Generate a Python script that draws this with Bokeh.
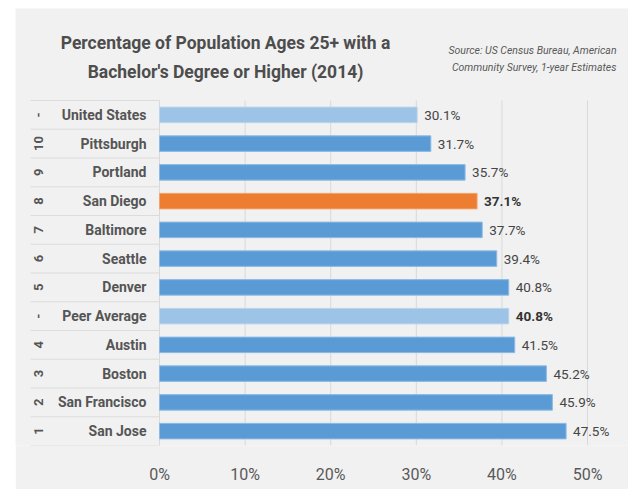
from bokeh.plotting import figure
from bokeh.models import ColumnDataSource, Range1d, FixedTicker, Spacer
from bokeh.layouts import column, row
from bokeh.core.properties import value
from bokeh.embed import file_html
from bokeh.resources import INLINE

# ---- data (top to bottom) ----
names = ["United States", "Pittsburgh", "Portland", "San Diego", "Baltimore", "Seattle",
         "Denver", "Peer Average", "Austin", "Boston", "San Francisco", "San Jose"]
ranks = ["-", "10", "9", "8", "7", "6", "5", "-", "4", "3", "2", "1"]
pct = [30.1, 31.7, 35.7, 37.1, 37.7, 39.4, 40.8, 40.8, 41.5, 45.2, 45.9, 47.5]
kinds = ["ref", "city", "city", "focus", "city", "city", "city", "ref", "city", "city", "city", "city"]
bold_labels = ["San Diego", "Peer Average"]
x_ticks = [0, 10, 20, 30, 40, 50]
x_tick_labels = ["0%", "10%", "20%", "30%", "40%", "50%"]
title_lines = ["Percentage of Population Ages 25+ with a", "Bachelor's Degree or Higher (2014)"]
source_lines = ["Source: US Census Bureau, American", "Community Survey, 1-year Estimates"]

FONT = "Roboto"
BG = "#f1f1f1"
fill_map = {"ref": "#9dc3e6", "city": "#5b9bd5", "focus": "#ed7d31"}
line_map = {"ref": "#b9d5ee", "city": "#8cbbe6", "focus": "#f3a46e"}

# geometry helpers (page pixels -> data)
PX_PER_UNIT_X = 8.56   # px per 1 %
ROW_PX = 28.75
X_ZERO_PAGE = 159
FRAME_BOTTOM_PAGE = 445
def xd(px):
    return (px - X_ZERO_PAGE) / PX_PER_UNIT_X
def yd(py):
    return -0.5 + (FRAME_BOTTOM_PAGE - py) / ROW_PX

n = len(names)
ys = [n - 1 - i for i in range(n)]
labels = [f"{v:.1f}%" for v in pct]
lab_style = ["bold" if nm in bold_labels else "normal" for nm in names]
lab_color = ["#333333" if s == "bold" else "#454545" for s in lab_style]

src = ColumnDataSource(dict(
    y=ys, v=pct, name=names, rank=ranks, lab=labels,
    fill=[fill_map[k] for k in kinds], line=[line_map[k] for k in kinds],
    lstyle=lab_style, lcolor=lab_color,
))

X0, X1 = xd(15), xd(628)
Y0, Y1 = -0.5, yd(8)
p = figure(width=613, height=481, output_backend="svg", toolbar_location=None,
           x_range=Range1d(X0, X1), y_range=Range1d(Y0, Y1),
           min_border_left=0, min_border_right=0, min_border_top=0, min_border_bottom=44)
p.background_fill_color = BG
p.border_fill_color = BG
p.outline_line_color = None

p.yaxis.visible = False
p.ygrid.grid_line_color = None
p.xgrid.grid_line_color = None
p.xaxis.ticker = FixedTicker(ticks=x_ticks)
p.xaxis.major_label_overrides = {t: l for t, l in zip(x_ticks, x_tick_labels)}
p.xaxis.axis_line_color = None
p.xaxis.major_tick_line_color = None
p.xaxis.minor_tick_line_color = None
p.xaxis.major_label_text_font = FONT
p.xaxis.major_label_text_font_size = "16px"
p.xaxis.major_label_text_color = "#595959"
p.xaxis.major_label_standoff = 13

# vertical gridlines at the tick values (only across the rows)
p.segment(x0=x_ticks, x1=x_ticks, y0=[-0.5] * len(x_ticks), y1=[n - 0.5] * len(x_ticks),
          line_color="#d9d9d9", line_width=1)

# table separators
sep_y = [i - 0.5 for i in range(n + 1)]
TABLE_LEFT = xd(30)
p.segment(x0=[TABLE_LEFT] * len(sep_y), x1=[0] * len(sep_y), y0=sep_y, y1=sep_y,
          line_color="#dcdcdc", line_width=1.2)

# bars
p.hbar(y="y", right="v", left=0, height=0.54, source=src,
       fill_color="fill", line_color="line", line_width=1)

# value labels
p.text(x="v", y="y", text="lab", source=src, x_offset=7,
       text_font=value(FONT), text_font_size="13.5px", text_font_style="lstyle",
       text_color="lcolor", text_align="left", text_baseline="middle")

# names
p.text(x=xd(146), y="y", text="name", source=src,
       text_font=value(FONT), text_font_size="14px", text_font_style="bold",
       text_color="#555555", text_align="right", text_baseline="middle")

# ranks (rotated)
p.text(x=xd(38), y="y", text="rank", source=src, angle=1.5708,
       text_font=value(FONT), text_font_size="13px", text_font_style="bold",
       text_color="#555555", text_align="center", text_baseline="middle")

# title
p.text(x=[xd(225)] * 2, y=[yd(42), yd(71)], text=title_lines,
       text_font=value(FONT), text_font_size="17.5px", text_font_style="bold",
       text_color="#4d4d4d", text_align="center", text_baseline="middle")

# source note
p.text(x=[xd(616)] * 2, y=[yd(50), yd(67)], text=source_lines,
       text_font=value(FONT), text_font_size="10.5px", text_font_style="italic",
       text_color="#595959", text_align="right", text_baseline="middle")

layout = column(Spacer(height=8), row(Spacer(width=15), p))
open("out.html", "w").write(file_html(layout, INLINE))
